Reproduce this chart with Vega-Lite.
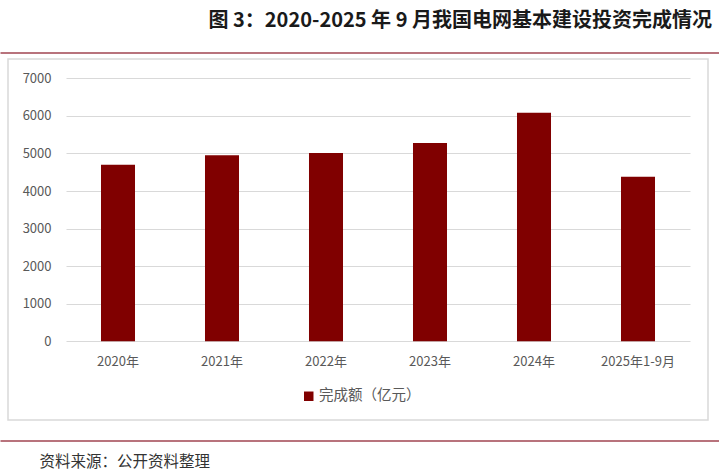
{
  "$schema": "https://vega.github.io/schema/vega-lite/v6.json",
  "width": 700,
  "height": 361,
  "autosize": {"type": "none"},
  "padding": {"left": 8, "top": 59, "right": 11, "bottom": 54},
  "background": "white",
  "title": {
    "text": "图 3：2020-2025 年 9 月我国电网基本建设投资完成情况",
    "anchor": "end",
    "frame": "group",
    "font": "Noto Sans CJK SC",
    "fontSize": 20,
    "fontWeight": "bold",
    "color": "#1a1a1a",
    "offset": 22,
    "dx": 4
  },
  "config": {
    "view": {"stroke": "#d9d9d9", "strokeWidth": 1.5},
    "font": "Noto Sans CJK SC"
  },
  "datasets": {
    "bars": [
      {"year": "2020年", "value": 4699, "series": "完成额（亿元）"},
      {"year": "2021年", "value": 4951, "series": "完成额（亿元）"},
      {"year": "2022年", "value": 5012, "series": "完成额（亿元）"},
      {"year": "2023年", "value": 5275, "series": "完成额（亿元）"},
      {"year": "2024年", "value": 6083, "series": "完成额（亿元）"},
      {"year": "2025年1-9月", "value": 4378, "series": "完成额（亿元）"}
    ],
    "deco": [{"d": 0}]
  },
  "layer": [
    {
      "data": {"name": "bars"},
      "mark": {"type": "bar"},
      "encoding": {
        "x": {
          "field": "year",
          "type": "nominal",
          "sort": null,
          "scale": {"range": [58, 682], "paddingInner": 0.673, "paddingOuter": 0.3365},
          "axis": {
            "orient": "bottom",
            "offset": -78.7,
            "title": null,
            "domain": false,
            "ticks": false,
            "tickSize": 0,
            "grid": false,
            "labelAngle": 0,
            "labelFont": "Noto Sans CJK SC",
            "labelFontSize": 13,
            "labelColor": "#595959",
            "labelPadding": 20.5,
            "labelBaseline": "middle"
          }
        },
        "y": {
          "field": "value",
          "type": "quantitative",
          "scale": {"domain": [0, 7000], "range": [282.3, 19.3], "nice": false},
          "axis": {
            "values": [0, 1000, 2000, 3000, 4000, 5000, 6000, 7000],
            "format": "d",
            "title": null,
            "domain": false,
            "ticks": false,
            "tickSize": 0,
            "offset": -43,
            "labelPadding": 0,
            "labelFont": "Noto Sans CJK SC",
            "labelFontSize": 13,
            "labelColor": "#595959",
            "grid": true,
            "gridColor": "#d9d9d9",
            "gridWidth": 1.2
          }
        },
        "color": {
          "field": "series",
          "type": "nominal",
          "scale": {"range": ["#800000"]},
          "legend": {
            "orient": "none",
            "legendX": 293.5,
            "legendY": 330,
            "title": null,
            "symbolType": "square",
            "symbolSize": 90,
            "symbolStrokeWidth": 0,
            "labelFont": "Noto Sans CJK SC",
            "labelFontSize": 14.5,
            "labelColor": "#595959",
            "labelOffset": 3,
            "padding": 0
          }
        }
      }
    },
    {
      "data": {"name": "deco"},
      "mark": {"type": "point", "opacity": 0},
      "encoding": {
        "x": {
          "field": "d",
          "type": "quantitative",
          "scale": {"domain": [0, 1], "range": [-8, 711]},
          "axis": {
            "orient": "top",
            "offset": 6.5,
            "domain": true,
            "domainColor": "#a04550",
            "domainWidth": 1.5,
            "labels": false,
            "ticks": false,
            "grid": false,
            "title": null
          }
        }
      }
    },
    {
      "data": {"name": "deco"},
      "mark": {"type": "point", "opacity": 0},
      "encoding": {
        "x": {
          "field": "d",
          "type": "quantitative",
          "scale": {"domain": [0, 1], "range": [-8, 711]},
          "axis": {
            "orient": "bottom",
            "offset": 20.5,
            "domain": true,
            "domainColor": "#a04550",
            "domainWidth": 1.5,
            "labels": false,
            "ticks": false,
            "grid": false,
            "title": "资料来源：公开资料整理",
            "titleFont": "Noto Sans CJK SC",
            "titleFontSize": 15.5,
            "titleFontWeight": "normal",
            "titleColor": "#333333",
            "titleX": 31,
            "titleY": 21,
            "titleAlign": "left",
            "titleBaseline": "middle",
            "titleAnchor": "start"
          }
        }
      }
    }
  ],
  "resolve": {"scale": {"x": "independent"}, "axis": {"x": "independent"}}
}
